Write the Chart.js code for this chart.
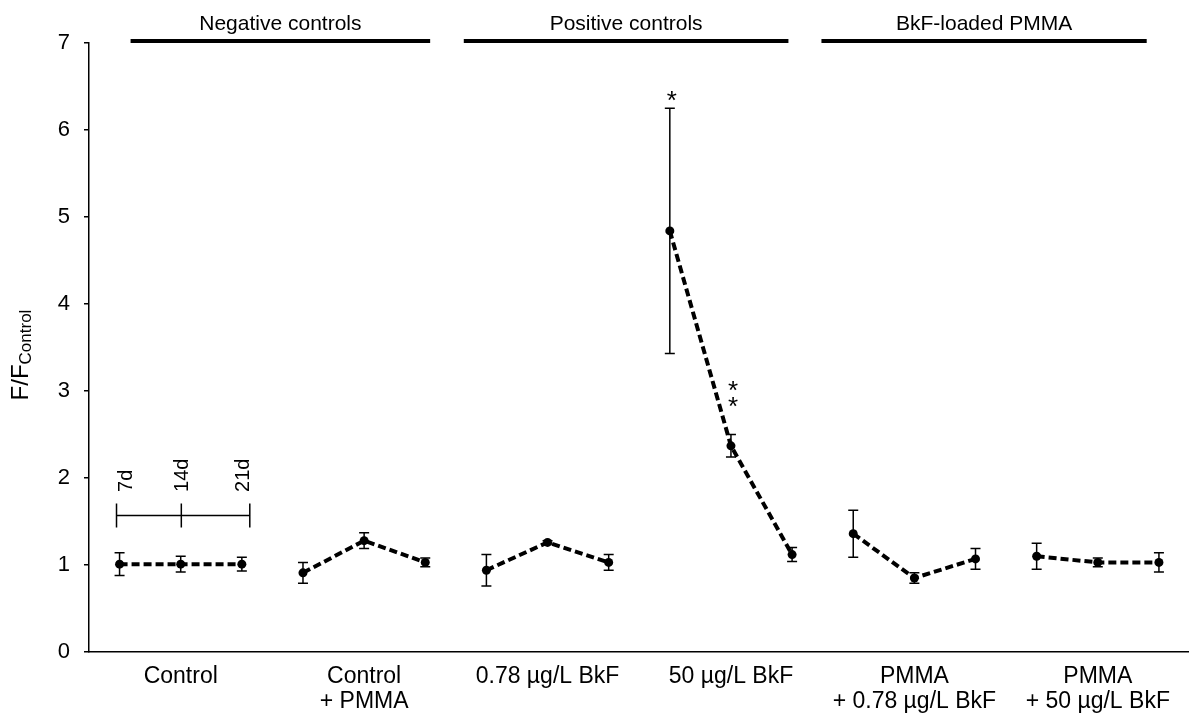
<!DOCTYPE html>
<html>
<head>
<meta charset="utf-8">
<script src="https://cdn.jsdelivr.net/npm/chart.js@4.4.1/dist/chart.umd.min.js"></script>
<style>
  html, body { margin: 0; padding: 0; background: #fff; overflow: hidden; }
  #wrap { width: 1194px; height: 713px; }
</style>
</head>
<body>
<div id="wrap"><canvas id="fluorChart"></canvas></div>
<script>
// ------------------------------------------------------------
// Data: F/F_Control per group, three sampling days each
// ------------------------------------------------------------
const grupos = [
  "Control",
  ["Control", "+ PMMA"],
  "0.78 µg/L BkF",
  "50 µg/L BkF",
  ["PMMA", "+ 0.78 µg/L BkF"],
  ["PMMA", "+ 50 µg/L BkF"],
];
const dias = ["7d", "14d", "21d"];

// mean of each day (7d, 14d, 21d)
const controlMedia      = [1.01, 1.01, 1.01];
const controlPmmaMedia  = [0.91, 1.28, 1.03];
const bkf078Media       = [0.94, 1.26, 1.03];
const bkf50Media        = [4.84, 2.37, 1.12];
const pmmaBkf078Media   = [1.36, 0.85, 1.07];
const pmmaBkf50Media    = [1.10, 1.03, 1.03];

// standard deviation of each day
const controlErro      = [0.13, 0.09, 0.08];
const controlPmmaErro  = [0.12, 0.09, 0.05];
const bkf078Erro       = [0.18, 0.02, 0.09];
const bkf50Erro        = [1.41, 0.13, 0.08];
const pmmaBkf078Erro   = [0.27, 0.06, 0.12];
const pmmaBkf50Erro    = [0.15, 0.05, 0.11];

const medias = [controlMedia, controlPmmaMedia, bkf078Media, bkf50Media, pmmaBkf078Media, pmmaBkf50Media];
const erros  = [controlErro, controlPmmaErro, bkf078Erro, bkf50Erro, pmmaBkf078Erro, pmmaBkf50Erro];

const yTicks = [0, 1, 2, 3, 4, 5, 6, 7];

// brackets on top of the plot, in point-index units
const cabecalhos      = ["Negative controls", "Positive controls", "BkF-loaded PMMA"];
const cabecalhoInicio = [0.18, 5.63, 11.48];
const cabecalhoFim    = [5.08, 10.94, 16.8];

// significance marks: group, day, number of stars
const signifGrupo = [3, 3];
const signifDia   = [0, 1];
const signifQtd   = [1, 2];

// time legend drawn inside the Control group
const legendaY       = 1.57;
const legendaTickX   = [-0.05, 1.01, 2.13];
const legendaTextoX  = [0.11, 1.03, 2.02];
const legendaTextoY  = 1.84;

const FONTE = "'Liberation Sans', Arial, sans-serif";

// posição x de cada ponto: os 18 pontos ficam igualmente espaçados
const posX = (g, d) => g * 3 + d;
const centros = grupos.map((_, g) => posX(g, 1));


// ------------------------------------------------------------
// Error bars with small caps
// ------------------------------------------------------------
const barrasErro = {
  id: "barrasErro",
  beforeDatasetsDraw(chart) {
    const { ctx, scales: { x, y } } = chart;
    ctx.save();
    ctx.strokeStyle = "#000";
    ctx.lineWidth = 1.5;
    medias.forEach((serie, g) => {
      serie.forEach((m, d) => {
        const px = x.getPixelForValue(posX(g, d));
        const topo = y.getPixelForValue(m + erros[g][d]);
        const base = y.getPixelForValue(m - erros[g][d]);
        ctx.beginPath();
        ctx.moveTo(px, topo); ctx.lineTo(px, base);
        ctx.moveTo(px - 5, topo); ctx.lineTo(px + 5, topo);
        ctx.moveTo(px - 5, base); ctx.lineTo(px + 5, base);
        ctx.stroke();
      });
    });
    ctx.restore();
  },
};


// ------------------------------------------------------------
// Extras: y title with subscript, group brackets, stars, day legend
// ------------------------------------------------------------
const extras = {
  id: "extras",
  afterDraw(chart) {
    const { ctx, chartArea, scales: { x, y } } = chart;
    ctx.save();
    ctx.fillStyle = "#000";
    ctx.strokeStyle = "#000";

    // y title  F/F_Control
    ctx.save();
    ctx.translate(21, 355);
    ctx.rotate(-Math.PI / 2);
    const principal = "F/F";
    ctx.font = "24px " + FONTE;
    const w1 = ctx.measureText(principal).width;
    ctx.font = "17px " + FONTE;
    const w2 = ctx.measureText("Control").width;
    const inicio = -(w1 + w2) / 2;
    ctx.textBaseline = "middle";
    ctx.textAlign = "left";
    ctx.font = "24px " + FONTE;
    ctx.fillText(principal, inicio, 0);
    ctx.font = "17px " + FONTE;
    ctx.fillText("Control", inicio + w1, 5);
    ctx.restore();

    // brackets on top
    const yLinha = chartArea.top - 2;
    ctx.lineWidth = 4;
    ctx.font = "21px " + FONTE;
    ctx.textAlign = "center";
    ctx.textBaseline = "middle";
    cabecalhos.forEach((txt, i) => {
      const a = x.getPixelForValue(cabecalhoInicio[i]);
      const b = x.getPixelForValue(cabecalhoFim[i]);
      ctx.beginPath();
      ctx.moveTo(a, yLinha); ctx.lineTo(b, yLinha);
      ctx.stroke();
      ctx.fillText(txt, (a + b) / 2, 24);
    });

    // significance stars, stacked above the error bar
    ctx.font = "26px " + FONTE;
    ctx.textBaseline = "alphabetic";
    signifGrupo.forEach((g, i) => {
      const d = signifDia[i];
      const px = x.getPixelForValue(posX(g, d));
      const topo = y.getPixelForValue(medias[g][d] + erros[g][d]);
      const n = signifQtd[i];
      for (let k = 0; k < n; k++) {
        const sobe = n > 1 ? 20 + k * 16 : -1;
        ctx.fillText("*", px + 2, topo - sobe);
      }
    });

    // day legend
    ctx.lineWidth = 1.5;
    const yl = y.getPixelForValue(legendaY);
    const xs = legendaTickX.map(v => x.getPixelForValue(v));
    ctx.beginPath();
    ctx.moveTo(xs[0], yl); ctx.lineTo(xs[xs.length - 1], yl);
    xs.forEach(px => { ctx.moveTo(px, yl - 12); ctx.lineTo(px, yl + 12); });
    ctx.stroke();

    ctx.font = "20px " + FONTE;
    ctx.textAlign = "left";
    ctx.textBaseline = "middle";
    dias.forEach((txt, i) => {
      ctx.save();
      ctx.translate(x.getPixelForValue(legendaTextoX[i]), y.getPixelForValue(legendaTextoY));
      ctx.rotate(-Math.PI / 2);
      ctx.fillText(txt, 0, 0);
      ctx.restore();
    });

    ctx.restore();
  },
};


// ------------------------------------------------------------
// One dashed line per group (no line between groups)
// ------------------------------------------------------------
const datasets = medias.map((serie, g) => ({
  data: serie.map((m, d) => ({ x: posX(g, d), y: m })),
  borderColor: "#000",
  borderWidth: 4,
  borderDash: [8, 4],
  pointRadius: 4.5,
  pointBackgroundColor: "#000",
  pointBorderWidth: 0,
  tension: 0,
  fill: false,
}));

new Chart(document.getElementById("fluorChart"), {
  type: "line",
  data: { datasets },
  plugins: [barrasErro, extras],
  options: {
    animation: false,
    responsive: true,
    maintainAspectRatio: false,
    layout: { padding: { top: 43, right: 0, left: 0, bottom: 0 } },
    plugins: {
      legend: { display: false },
      tooltip: { enabled: false },
    },
    scales: {
      x: {
        type: "linear",
        min: -0.5,
        max: 17.5,
        afterBuildTicks: (eixo) => { eixo.ticks = centros.map(v => ({ value: v })); },
        afterFit: (eixo) => { eixo.height = 61; },
        ticks: {
          autoSkip: false,
          maxRotation: 0,
          color: "#000",
          padding: 13,
          font: { family: FONTE, size: 23, lineHeight: 1.05 },
          callback: (v, i) => grupos[i],
        },
        grid: { drawOnChartArea: false, drawTicks: false },
        border: { display: true, color: "#000", width: 1.5 },
      },
      y: {
        min: 0,
        max: 7,
        afterBuildTicks: (eixo) => { eixo.ticks = yTicks.map(v => ({ value: v })); },
        afterFit: (eixo) => { eixo.width = 89; },
        ticks: {
          color: "#000",
          padding: 14,
          font: { family: FONTE, size: 22 },
        },
        grid: { drawOnChartArea: false, drawTicks: true, tickLength: 5, color: "#000", lineWidth: 1.5 },
        border: { display: true, color: "#000", width: 1.5 },
      },
    },
  },
});
</script>
</body>
</html>
